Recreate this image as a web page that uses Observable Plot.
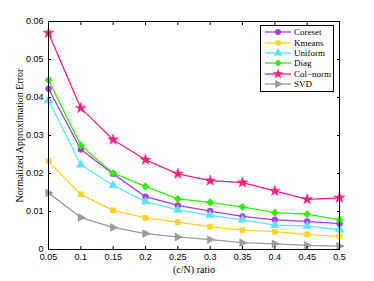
<!DOCTYPE html>
<html><head><meta charset="utf-8">
<script src="https://cdn.jsdelivr.net/npm/d3@7"></script>
<script src="https://cdn.jsdelivr.net/npm/@observablehq/plot@0.6"></script>
<style>
body{margin:0;background:#fff;}
#wrap{position:relative;width:374px;height:281px;}
#legend{position:absolute;left:260px;top:25px;width:72px;height:64px;border:1px solid #000;background:#fff;font-family:"Liberation Serif",serif;font-size:9px;padding-top:1px;}
#legend .row{display:flex;align-items:center;height:10.4px;}
#legend svg{display:block;margin-left:4px;margin-right:3px;}
.serif text, text.serif{font-family:"Liberation Serif",serif !important;}
</style></head>
<body><div id="wrap"><div id="legend"></div></div>
<script>
const ratios = [0.05,0.1,0.15,0.2,0.25,0.3,0.35,0.4,0.45,0.5];
const coreset = [0.0423,0.0263,0.0199,0.0139,0.0116,0.0101,0.0087,0.0078,0.0074,0.0068];
const kmeans  = [0.0232,0.0145,0.0103,0.0083,0.0072,0.0060,0.0051,0.0047,0.0040,0.0034];
const uniform = [0.0392,0.0223,0.0169,0.0126,0.0104,0.0090,0.0078,0.0064,0.0062,0.0052];
const diag    = [0.0446,0.0274,0.0201,0.0166,0.0133,0.0124,0.0112,0.0097,0.0093,0.0078];
const colnorm = [0.0570,0.0372,0.0289,0.0236,0.0199,0.0181,0.0176,0.0154,0.0132,0.0136];
const svd     = [0.0149,0.0084,0.0058,0.0042,0.0033,0.0026,0.0018,0.0015,0.0011,0.0009];
const seriesNames = ["Coreset","Kmeans","Uniform","Diag","Col\u2212norm","SVD"];
const seriesColors = ["#a63cf2","#ffd21f","#5ee2ff","#36ec0c","#ff1f7c","#9b9b9b"];
const xTicks = [0.05,0.1,0.15,0.2,0.25,0.3,0.35,0.4,0.45,0.5];
const xTickLabels = ["0.05","0.1","0.15","0.2","0.25","0.3","0.35","0.4","0.45","0.5"];
const yTicks = [0,0.01,0.02,0.03,0.04,0.05,0.06];
const yTickLabels = ["0","0.01","0.02","0.03","0.04","0.05","0.06"];

const triRight = {draw(ctx, size){const h=Math.sqrt(size)*0.8;ctx.moveTo(h,0);ctx.lineTo(-h*0.6,-h*0.85);ctx.lineTo(-h*0.6,h*0.85);ctx.closePath();}};
const symbols = ["circle","square","triangle","diamond2","star",triRight];
const d3symbols = [d3.symbolCircle,d3.symbolSquare,d3.symbolTriangle,d3.symbolDiamond2,d3.symbolStar,triRight];
const sizes = [3.0,2.9,3.2,3.4,3.4,3.3];
const allValues = [coreset,kmeans,uniform,diag,colnorm,svd];

const marks = [];
allValues.forEach((vals,i)=>{
  const data = ratios.map((r,j)=>({x:r,y:vals[j]}));
  marks.push(Plot.line(data,{x:"x",y:"y",stroke:seriesColors[i],strokeWidth:1.3}));
  marks.push(Plot.dot(data,{x:"x",y:"y",fill:seriesColors[i],stroke:seriesColors[i],strokeWidth:0.5,r:sizes[i],symbol:symbols[i]}));
});

const xfmt = d => xTickLabels[xTicks.indexOf(d)];
const yfmt = d => yTickLabels[yTicks.findIndex(t=>Math.abs(t-d)<1e-9)];
const chart = Plot.plot({
  width:374,height:281,
  marginLeft:48,marginRight:35,marginTop:21,marginBottom:32,
  style:{background:"#fff",fontFamily:"Liberation Sans, Arial, sans-serif",fontSize:"9px",color:"#000"},
  x:{domain:[0.05,0.5]},
  y:{domain:[0,0.06]},
  marks:[
    ...marks,
    Plot.frame({stroke:"#000",strokeWidth:1}),
    Plot.axisX(xTicks,{anchor:"bottom",tickSize:-3,tickPadding:7,tickFormat:xfmt,label:null,fontSize:9}),
    Plot.axisX(xTicks,{anchor:"top",tickSize:-3,tickFormat:()=>"",label:null}),
    Plot.axisY(yTicks,{anchor:"left",tickSize:-3,tickPadding:8,tickFormat:yfmt,label:null,fontSize:9}),
    Plot.axisY(yTicks,{anchor:"right",tickSize:-3,tickFormat:()=>"",label:null}),
    Plot.text(["(c/N) ratio"],{frameAnchor:"bottom",dy:20,lineAnchor:"middle",textAnchor:"middle",fontSize:10,className:"serif"}),
    Plot.text(["Normalized Approximation Error"],{frameAnchor:"left",dx:-29,rotate:-90,textAnchor:"middle",lineAnchor:"middle",fontSize:10,className:"serif"})
  ]
});
document.getElementById("wrap").prepend(chart);

const leg = document.getElementById("legend");
seriesNames.forEach((n,i)=>{
  const row = document.createElement("div"); row.className="row";
  const svg = d3.create("svg").attr("width",26).attr("height",10);
  svg.append("line").attr("x1",0).attr("x2",26).attr("y1",5).attr("y2",5).attr("stroke",seriesColors[i]).attr("stroke-width",1.3);
  svg.append("path").attr("d",d3.symbol(d3symbols[i],Math.PI*sizes[i]*sizes[i])()).attr("transform","translate(13,5)").attr("fill",seriesColors[i]);
  row.appendChild(svg.node());
  const t=document.createElement("span"); t.textContent=n; row.appendChild(t);
  leg.appendChild(row);
});
</script></body></html>
